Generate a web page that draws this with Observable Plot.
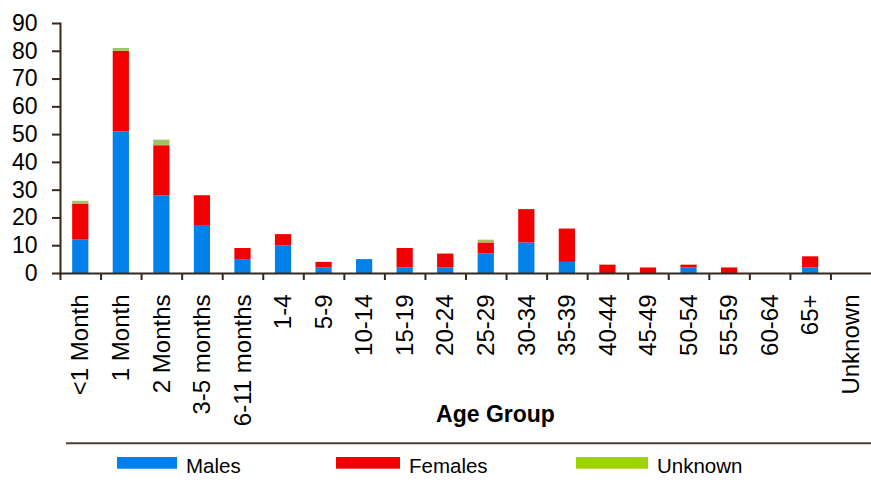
<!DOCTYPE html>
<html><head><meta charset="utf-8">
<script src="https://cdn.jsdelivr.net/npm/d3@7"></script>
<script src="https://cdn.jsdelivr.net/npm/@observablehq/plot@0.6"></script>
<style>
body{margin:0;background:#fff;font-family:"Liberation Sans",Arial,sans-serif}
#chart svg{display:block}
</style>
</head><body><div id="chart"></div><script>
const ageGroups = ["<1 Month","1 Month","2 Months","3-5 months","6-11 months","1-4","5-9","10-14","15-19","20-24","25-29","30-34","35-39","40-44","45-49","50-54","55-59","60-64","65+","Unknown"];
const males   = [12,51,28,17,5,10,2,5,2,2,7,11,4,0,0,2,0,0,2,0];
const females = [13,29,18,11,4,4,2,0,7,5,4,12,12,3,2,1,2,0,4,0];
const unknown = [1,1,2,0,0,0,0,0,0,0,1,0,0,0,0,0,0,0,0,0];
const yTicks = [0,10,20,30,40,50,60,70,80,90];
const seriesNames = ["Males","Females","Unknown"];
const barColors = ["#0080e8","#f20000","#a3c263"];
const legendColors = ["#0080e8","#f20000","#9fd300"];
const xTitle = "Age Group";

const rows = ageGroups.flatMap((g, i) => [
  {age: g, sex: "Males", n: males[i]},
  {age: g, sex: "Females", n: females[i]},
  {age: g, sex: "Unknown", n: unknown[i]}
]);

const W = 871, H = 432, mL = 60, mR = 0, mT = 23, mB = 159;
const step = (W - mL - mR) / ageGroups.length;
const axisColor = "#33291f";
const font = "Liberation Sans, Arial, sans-serif";

const chart = Plot.plot({
  width: W, height: H,
  marginTop: mT, marginBottom: mB, marginLeft: mL, marginRight: mR,
  style: {fontFamily: font, color: "#000", background: "#fff", overflow: "visible"},
  x: {domain: ageGroups, paddingInner: 0.6, paddingOuter: 0.3, round: false, axis: null},
  y: {domain: [0, 90], axis: null},
  color: {domain: seriesNames, range: barColors},
  marks: [
    Plot.barY(rows, {x: "age", y: "n", fill: "sex", order: seriesNames}),
    Plot.axisY({ticks: yTicks, tickSize: 8, tickPadding: 15, fontSize: 23, stroke: axisColor, strokeWidth: 2, fill: "#000", label: null, tickFormat: d => d}),
    Plot.axisX({tickSize: 0, tickPadding: 21, tickRotate: -90, fontSize: 24, fill: "#000", label: null}),
    Plot.ruleX(ageGroups, {x: d => d, y1: 0, y2: 0, insetBottom: -7, dx: -step / 2, stroke: axisColor, strokeWidth: 2}),
    Plot.frame({anchor: "left", stroke: axisColor, strokeWidth: 2}),
    Plot.frame({anchor: "bottom", stroke: axisColor, strokeWidth: 2}),
    Plot.text([xTitle], {text: d => d, frameAnchor: "bottom", dx: 29.5, dy: 148.5, lineAnchor: "bottom", fontWeight: "bold", fontSize: 23, fill: "#000"})
  ]
});
document.getElementById("chart").appendChild(chart);

// Legend below the plot
const legend = d3.select("#chart").append("svg")
  .attr("width", W).attr("height", 50)
  .style("display", "block")
  .style("font-family", font);
legend.append("line")
  .attr("x1", 66).attr("x2", W).attr("y1", 11.3).attr("y2", 11.3)
  .attr("stroke", "#4a4037").attr("stroke-width", 2);
const legendSwatch = [[117, 60], [336, 64], [576, 72]];
seriesNames.forEach((name, i) => {
  const [x0, w] = legendSwatch[i];
  legend.append("rect").attr("x", x0).attr("y", 25).attr("width", w).attr("height", 11.7).attr("fill", legendColors[i]);
  legend.append("text").attr("x", x0 + w + 9).attr("y", 40.5).attr("font-size", 20.5).attr("fill", "#000").text(name);
});
</script></body></html>
